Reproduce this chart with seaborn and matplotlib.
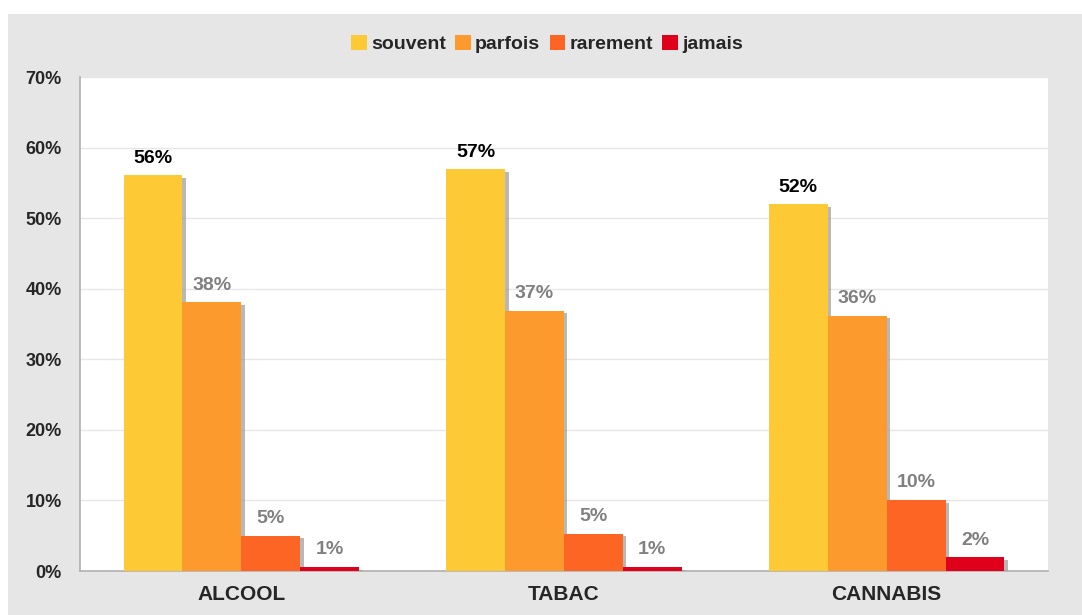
import pandas as pd
import matplotlib
matplotlib.use("Agg")
import matplotlib.pyplot as plt
import matplotlib.patheffects as pe
from matplotlib.patches import Rectangle, Patch
import seaborn as sns

# data
categories = ["ALCOOL", "TABAC", "CANNABIS"]
series = ["souvent", "parfois", "rarement", "jamais"]
souvent = [56.1, 56.9, 52.0]
parfois = [38.1, 36.9, 36.2]
rarement = [5.0, 5.3, 10.1]
jamais = [0.6, 0.6, 2.0]
shown = {"souvent": ["56%", "57%", "52%"],
         "parfois": ["38%", "37%", "36%"],
         "rarement": ["5%", "5%", "10%"],
         "jamais": ["1%", "1%", "2%"]}
colors = ["#FDC934", "#FD9A2E", "#FD6524", "#DF001C"]

rows = []
for name, vals in zip(series, [souvent, parfois, rarement, jamais]):
    for cat, v in zip(categories, vals):
        rows.append({"cat": cat, "serie": name, "val": v})
df = pd.DataFrame(rows)

sns.set_style("white")
plt.rcParams["font.family"] = ["Liberation Sans", "DejaVu Sans"]
plt.rcParams["font.weight"] = "bold"

fig = plt.figure(figsize=(10.82, 6.15), dpi=100)
fig.patch.set_facecolor("white")
# grey panel behind the chart
fig.patches.append(Rectangle((8 / 1082, 0), 1, 1 - 14 / 615, transform=fig.transFigure,
                             facecolor="#E6E6E6", edgecolor="none", zorder=-10))

ax = fig.add_axes([80 / 1082, 1 - 571 / 615, 968 / 1082, 494 / 615])
sns.barplot(data=df, x="cat", y="val", hue="serie", order=categories, hue_order=series,
            palette=colors, width=0.73, saturation=1, ax=ax, legend=False, zorder=3)

shadow = [pe.SimplePatchShadow(offset=(2.5, -2), shadow_rgbFace="#9a9a9a", alpha=0.7), pe.Normal()]
for name, cont in zip(series, ax.containers):
    txtcol = "black" if name == "souvent" else "#808080"
    for bar, lab in zip(cont, shown[name]):
        bar.set_path_effects(shadow)
        bar.set_edgecolor("none")
        ax.annotate(lab, (bar.get_x() + bar.get_width() / 2, bar.get_height()),
                    xytext=(0, 6), textcoords="offset points", ha="center", va="bottom",
                    fontsize=14, fontweight="bold", color=txtcol)

ax.set_ylim(0, 70)
ax.set_xlim(-0.5, 2.5)
ax.set_yticks(range(0, 71, 10))
ax.set_yticklabels([f"{t}%" for t in range(0, 71, 10)], fontsize=13, fontweight="bold")
ax.set_xticks([0, 1, 2])
ax.set_xticklabels(categories, fontsize=15, fontweight="bold")
ax.set_xticks([-0.5, 0.5, 1.5, 2.5], minor=True)
ax.tick_params(axis="x", which="major", length=0, pad=10)
ax.tick_params(axis="x", which="minor", length=6, color="#b0b0b0", width=1)
ax.tick_params(axis="y", length=5, color="#b0b0b0", pad=8)
ax.set_xlabel("")
ax.set_ylabel("")
ax.grid(axis="y", color="#E6E6E6", linewidth=1, zorder=0)
ax.set_axisbelow(True)
for s in ["top", "right"]:
    ax.spines[s].set_visible(False)
for s in ["left", "bottom"]:
    ax.spines[s].set_color("#b0b0b0")
    ax.spines[s].set_linewidth(1.2)
ax.set_facecolor("white")

handles = [Patch(facecolor=c, edgecolor="none") for c in colors]
fig.legend(handles, series, loc="center", bbox_to_anchor=(547 / 1082, 1 - 44 / 615), ncol=4,
           frameon=False, prop={"weight": "bold", "size": 14}, handlelength=0.8, handleheight=0.8,
           handletextpad=0.2, columnspacing=0.5)

fig.savefig("out.png", dpi=100)
